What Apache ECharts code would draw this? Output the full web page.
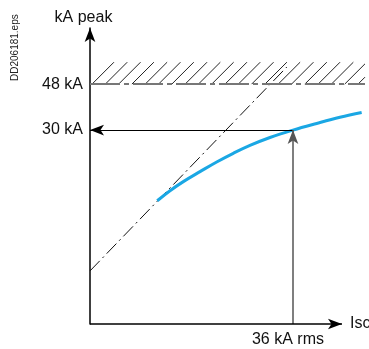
<!DOCTYPE html>
<html>
<head>
<meta charset="utf-8">
<script src="https://cdn.jsdelivr.net/npm/echarts@6/dist/echarts.min.js"></script>
<style>
html,body{margin:0;padding:0;background:#fff;}
#chart{width:369px;height:349px;}
</style>
</head>
<body>
<div id="chart"></div>
<script>
// Data (kA)
const curveX = [11.93, 14.19, 16.55, 19.51, 22.47, 25.41, 28.37, 31.92, 36.0, 40.20, 44.33, 48.18];
const curveY = [2.3, 6.25, 9.8, 13.7, 17.5, 20.9, 24.0, 27.1, 30.0, 32.6, 35.0, 36.9];
const tangentX = [0, 34.9];
const tangentY = [-25.2, 54.7];
const limitPeak = 48;          // kA peak limit
const workPeak = 30;           // kA peak
const workRms = 36;            // kA rms
const yTickValues = [30, 48];
const xTickValues = [36];
const xAxisEnd = 44.69;        // arrow tip of the Isc axis
const hatchRange = [0, 48.77]; // x extent of the limit band
const hatchHeight = 8.6;       // band height in kA

const font = '"Liberation Sans", Arial, sans-serif';
const chart = echarts.init(document.getElementById('chart'));

const option = {
  animation: false,
  grid: {left: 90, top: 28, right: 3, bottom: 25, containLabel: false},
  xAxis: {
    type: 'value', min: 0, max: 48.95,
    splitLine: {show: false},
    axisTick: {show: false},
    axisLine: {show: false},
    axisLabel: {customValues: xTickValues, formatter: v => v + ' kA rms', color: '#111', fontSize: 16, fontFamily: font, margin: 8, padding: [0, 10, 0, 0]}
  },
  yAxis: {
    type: 'value', min: -46, max: 70,
    splitLine: {show: false},
    axisTick: {show: false},
    axisLine: {onZero: false, lineStyle: {color: '#000', width: 1.5}, symbol: ['none', 'arrow'], symbolSize: [8, 14]},
    axisLabel: {customValues: yTickValues, formatter: v => v + ' kA', color: '#111', fontSize: 16, fontFamily: font, margin: 7},
    name: 'kA peak', nameLocation: 'end', nameGap: 2,
    nameTextStyle: {color: '#111', fontSize: 16, fontFamily: font, padding: [0, 13, 0, 0]}
  },
  graphic: [{
    type: 'text', x: 10, y: 81, rotation: Math.PI / 2,
    style: {text: 'DD206181.eps', fontSize: 10, fontFamily: font, fill: '#222', align: 'left', verticalAlign: 'top'}
  }],
  series: [
    {
      type: 'custom', clip: false, silent: true,
      data: [[hatchRange[0], hatchRange[1], limitPeak, limitPeak + hatchHeight]],
      renderItem: function (params, api) {
        const p0 = api.coord([api.value(0), api.value(2)]);
        const p1 = api.coord([api.value(1), api.value(3)]);
        const h = p0[1] - p1[1];
        const children = [];
        for (let bx = p0[0] + 2; bx < p1[0]; bx += 13.3) {
          let ex = bx + h, ey = p1[1];
          if (ex > p1[0]) { ey = p0[1] - (p1[0] - bx); ex = p1[0]; }
          children.push({type: 'line', shape: {x1: bx, y1: p0[1], x2: ex, y2: ey}, style: {stroke: '#222', lineWidth: 1}});
        }
        return {type: 'group', children: children};
      }
    },
    {
      type: 'line', clip: false, silent: true, showSymbol: false,
      data: tangentX.map((x, i) => [x, tangentY[i]]),
      lineStyle: {color: '#111', width: 1, type: [14, 4, 2, 4]},
      markLine: {
        silent: true, animation: false,
        label: {show: false},
        data: [
          [{coord: [hatchRange[0], limitPeak], symbol: 'none', lineStyle: {color: '#777', width: 2, type: [30, 4, 5, 4]}}, {coord: [hatchRange[1], limitPeak], symbol: 'none'}],
          [{coord: [workRms, workPeak], symbol: 'none', lineStyle: {color: '#000', width: 1.2, type: 'solid'}}, {coord: [0, workPeak], symbol: 'arrow', symbolSize: [8, 14]}],
          [{coord: [workRms, -46], symbol: 'none', lineStyle: {color: '#555', width: 1.5, type: 'solid'}}, {coord: [workRms, workPeak], symbol: 'arrow', symbolSize: [8, 14]}],
          [{coord: [0, -46], symbol: 'none', lineStyle: {color: '#000', width: 1.5, type: 'solid'},
            label: {show: true, position: 'end', formatter: 'Isc', color: '#111', fontSize: 16, fontFamily: font, distance: 8}},
           {coord: [xAxisEnd, -46], symbol: 'arrow', symbolSize: [8, 14]}]
        ]
      }
    },
    {
      type: 'line', smooth: 0.4, clip: false, silent: true, showSymbol: false,
      data: curveX.map((x, i) => [x, curveY[i]]),
      lineStyle: {color: '#1aa7e4', width: 3}
    }
  ]
};
chart.setOption(option);
</script>
</body>
</html>
